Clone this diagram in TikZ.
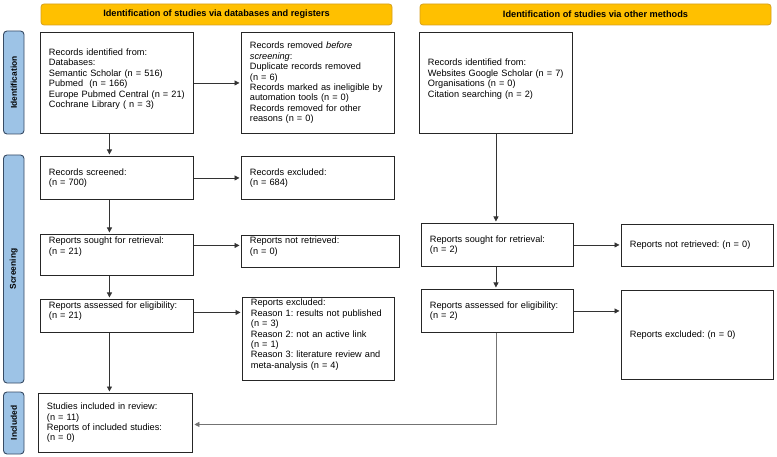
\documentclass[tikz,border=0pt]{standalone}
\usepackage{fontspec}
\setmainfont{Liberation Sans}
\usetikzlibrary{arrows.meta,calc}
\definecolor{hdrfill}{RGB}{255,192,0}
\definecolor{hdrline}{RGB}{214,160,30}
\definecolor{sidefill}{RGB}{157,195,230}
\definecolor{sideline}{RGB}{55,75,100}
\newcommand\fs{\fontsize{9.2}{10.4}\selectfont}
\frenchspacing
\begin{document}
\begin{tikzpicture}[x=1pt,y=-1pt,
  box/.style={draw=black!85, line width=0.9pt, anchor=north west, inner xsep=8.5pt, inner ysep=0pt, align=left, font=\fs},
  hdr/.style={draw=hdrline, fill=hdrfill, line width=0.8pt, rounded corners=3pt, minimum width=351pt, minimum height=21pt, inner sep=0pt, font=\fs\bfseries},
  side/.style={draw=sideline, fill=sidefill, line width=0.9pt, rounded corners=3.5pt, rotate=90, minimum height=20.5pt, inner sep=0pt, font=\fontsize{8.4}{10}\selectfont\bfseries},
  arr/.style={draw=black!80, line width=0.7pt, -{Triangle[length=5pt,width=5pt]}, shorten >=1.5pt},
  ]
\useasboundingbox (0,0) rectangle (777,457);

% headers
\node[hdr] (hL) at (216.5,14.5) {Identification of studies via databases and registers};
\node[hdr] (hR) at (595.5,14.5) {Identification of studies via other methods};

% side bars
\node[side, minimum width=103pt] (sId) at (13.75,82.5) {Identification};
\node[side, minimum width=228pt] (sScr) at (13.75,269) {Screening};
\node[side, minimum width=62pt] (sInc) at (13.75,423) {Included};

% boxes
\node[box, minimum width=153pt, minimum height=101pt, text width=136pt] (A) at (40,32)
 {Records identified from:\\ Databases:\\ Semantic Scholar (n = 516)\\ Pubmed\ \ (n = 166)\\ Europe Pubmed Central (n = 21)\\ Cochrane Library ( n = 3)\\[-1pt]\mbox{}};
\node[box, minimum width=153pt, minimum height=101pt, text width=136pt] (B) at (241,32)
 {Records removed \textit{before}\\ \textit{screening}:\\ Duplicate records removed\\ (n = 6)\\ Records marked as ineligible by\\ automation tools (n = 0)\\ Records removed for other\\ reasons (n = 0)};
\node[box, minimum width=153pt, minimum height=101pt, text width=136pt] (C) at (419,32)
 {Records identified from:\\ Websites Google Scholar (n = 7)\\ Organisations (n = 0)\\ Citation searching (n = 2)\\[-1pt]\mbox{}};

\node[box, minimum width=153pt, minimum height=43pt, text width=136pt] (Scr) at (40,156)
 {Records screened:\\ (n = 700)};
\node[box, minimum width=153pt, minimum height=43pt, text width=136pt] (Exc) at (241,156)
 {Records excluded:\\ (n = 684)};

\node[box, minimum width=153pt, minimum height=41pt, text width=136pt] (SL) at (40,234)
 {Reports sought for retrieval:\\ (n = 21)\\[8pt]\mbox{}};
\node[box, minimum width=158pt, minimum height=32pt, text width=141pt] (NL) at (241,235)
 {Reports not retrieved:\\ (n = 0)\\[0.9pt]\mbox{}};
\node[box, minimum width=152pt, minimum height=43pt, text width=135pt] (SR) at (421,223)
 {Reports sought for retrieval:\\ (n = 2)};
\node[box, minimum width=152pt, minimum height=42pt, text width=135pt] (NR) at (621,224)
 {Reports not retrieved: (n = 0)};

\node[box, minimum width=153pt, minimum height=33pt, text width=136pt] (AL) at (40,299)
 {Reports assessed for eligibility:\\ (n = 21)\\[0.9pt]\mbox{}};
\node[box, minimum width=152pt, minimum height=83pt, text width=135pt] (EL) at (242,297)
 {Reports excluded:\\ Reason 1: results not published\\ (n = 3)\\ Reason 2: not an active link\\ (n = 1)\\ Reason 3: literature review and\\ meta-analysis (n = 4)\\[0pt]\mbox{}};
\node[box, minimum width=152pt, minimum height=43pt, text width=135pt] (AR) at (421,289)
 {Reports assessed for eligibility:\\ (n = 2)};
\node[box, minimum width=152pt, minimum height=89pt, text width=135pt] (ER) at (621,290)
 {Reports excluded: (n = 0)};

\node[box, minimum width=154pt, minimum height=59pt, text width=137pt] (Inc) at (38,393)
 {Studies included in review:\\ (n = 11)\\ Reports of included studies:\\ (n = 0)};

% horizontal connectors
\draw[arr] (A.east) -- (B.west);
\draw[arr] (Scr.east) -- (Exc.west);
\coordinate (sl) at ([yshift=9.5pt]SL.east);
\draw[arr] (sl) -- (sl -| NL.west);
\coordinate (al) at ([yshift=3.5pt]AL.east);
\draw[arr] (al) -- (al -| EL.west);
\draw[arr] (SR.east) -- (SR.east -| NR.west);
\draw[arr] (AR.east) -- (AR.east -| ER.west);

% vertical connectors left
\coordinate (a1) at ([xshift=-7.5pt]A.south);
\draw[arr] (a1) -- (a1 |- Scr.north);
\coordinate (a2) at ([xshift=-7.5pt]Scr.south);
\draw[arr] (a2) -- (a2 |- SL.north);
\coordinate (a3) at ([xshift=-7.5pt]SL.south);
\draw[arr] (a3) -- (a3 |- AL.north);
\coordinate (a4) at ([xshift=-7.5pt]AL.south);
\draw[arr] (a4) -- (a4 |- Inc.north);

% vertical connectors right
\draw[arr] (C.south) -- (C.south |- SR.north);
\draw[arr] (C.south |- SR.south) -- (C.south |- AR.north);
\draw[arr, draw=black!55] (C.south |- AR.south) |- ([yshift=-1.5pt]Inc.east);
\end{tikzpicture}
\end{document}
